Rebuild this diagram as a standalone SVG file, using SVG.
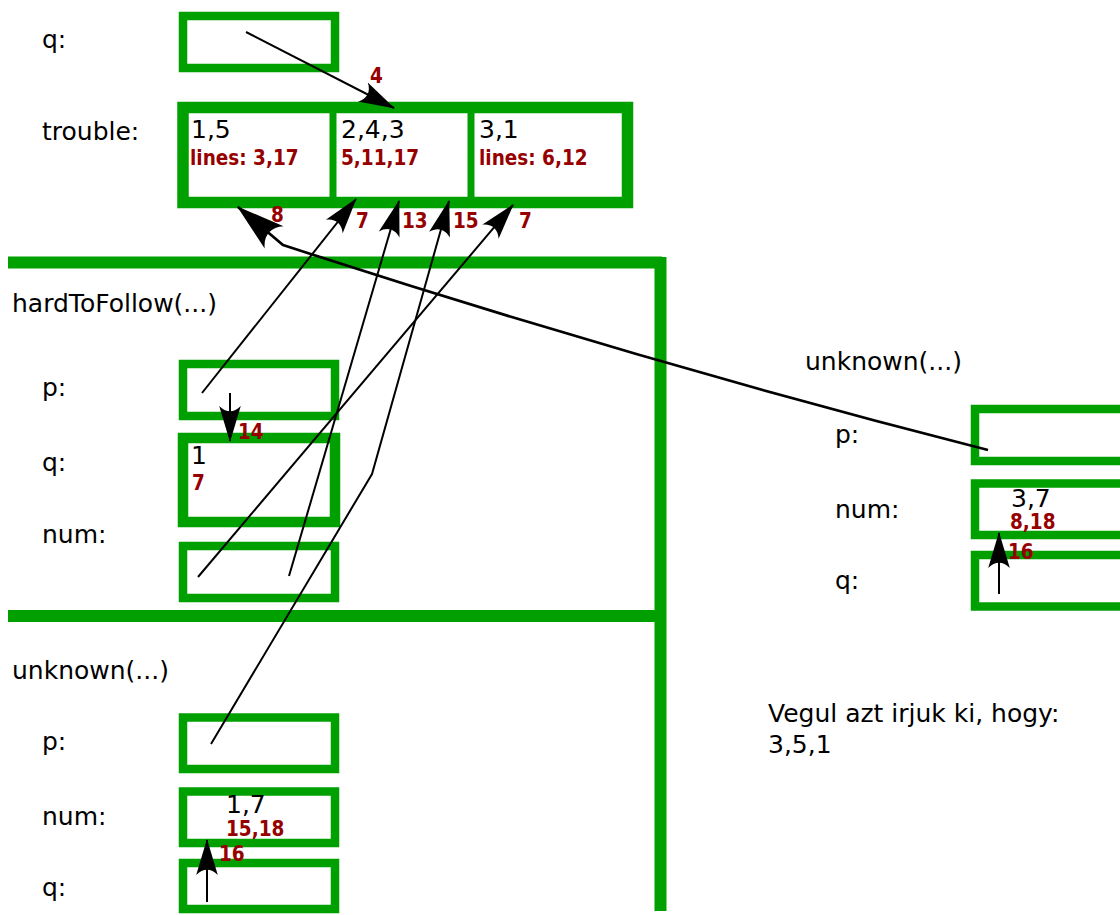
<svg xmlns="http://www.w3.org/2000/svg" width="1120" height="915" viewBox="0 0 1120 915">
  <defs>
    <style>
      .box { fill: none; stroke: #00a000; stroke-width: 8.5; }
      .boxw { fill: none; stroke: #00a000; stroke-width: 10.5; }
      .frame { fill: none; stroke: #00a000; stroke-width: 12; }
      .div { stroke: #00a000; stroke-width: 7; }
      .lbl { font-family: "DejaVu Sans", "Bitstream Vera Sans", sans-serif; font-size: 25px; fill: #000; }
      .val { font-family: "DejaVu Sans", "Bitstream Vera Sans", sans-serif; font-size: 25px; fill: #000; }
      .red { font-family: "DejaVu Sans Condensed", "DejaVu Sans", sans-serif; font-stretch: condensed; font-size: 20.5px; font-weight: bold; fill: #960000; }
      .ptr { fill: none; stroke: #000; stroke-width: 2; marker-end: url(#arrow); }
      .ptr-thick { fill: none; stroke: #000; stroke-width: 2.7; marker-end: url(#arrow); }
    </style>
    <!-- concave arrowhead, sized relative to the stroke width -->
    <marker id="arrow" viewBox="-18 -6 19 12" refX="0" refY="0" markerWidth="19" markerHeight="12" markerUnits="strokeWidth" orient="auto" overflow="visible">
      <path d="M0.5,0 L-17.5,-5.4 C-14,-2 -14,2 -17.5,5.4 Z" fill="#000"/>
    </marker>
  </defs>

  <rect width="1120" height="915" fill="#fff"/>

  <!-- global variables -->
  <g id="global-q">
    <text class="lbl" x="42" y="48">q:</text>
    <rect class="box" x="183" y="16" width="152" height="52"/>
  </g>

  <g id="trouble">
    <text class="lbl" x="42" y="140">trouble:</text>
    <rect x="183" y="107.5" width="444.5" height="95" fill="none" stroke="#00a000" stroke-width="11.5"/>
    <line class="div" x1="333" y1="107" x2="333" y2="203"/>
    <line class="div" x1="471" y1="107" x2="471" y2="203"/>
    <text class="val" x="191" y="138">1,5</text>
    <text class="red" x="190" y="165">lines: 3,17</text>
    <text class="val" x="341" y="138">2,4,3</text>
    <text class="red" x="341" y="165">5,11,17</text>
    <text class="val" x="479" y="138">3,1</text>
    <text class="red" x="479" y="165">lines: 6,12</text>
  </g>

  <!-- stack frame borders -->
  <g id="frames">
    <line class="frame" x1="8" y1="262.5" x2="662" y2="262.5"/>
    <line class="frame" x1="8" y1="616" x2="660" y2="616"/>
    <line class="frame" x1="660.5" y1="257" x2="660.5" y2="911"/>
  </g>

  <!-- hardToFollow(...) frame -->
  <g id="hardToFollow">
    <text class="lbl" x="12" y="312">hardToFollow(...)</text>
    <g id="htf-p">
      <text class="lbl" x="42" y="396">p:</text>
      <rect class="box" x="183" y="364" width="152" height="52"/>
    </g>
    <g id="htf-q">
      <text class="lbl" x="42" y="471">q:</text>
      <rect class="boxw" x="183" y="438" width="152" height="84"/>
      <text class="val" x="191" y="464">1</text>
      <text class="red" x="192" y="490">7</text>
    </g>
    <g id="htf-num">
      <text class="lbl" x="42" y="543">num:</text>
      <rect class="box" x="183" y="546" width="152" height="52"/>
    </g>
  </g>

  <!-- unknown(...) frame, lower left -->
  <g id="unknown-1">
    <text class="lbl" x="12" y="679">unknown(...)</text>
    <g id="u1-p">
      <text class="lbl" x="42" y="750">p:</text>
      <rect class="box" x="183" y="717.5" width="152" height="51.5"/>
    </g>
    <g id="u1-num">
      <text class="lbl" x="42" y="825">num:</text>
      <rect class="box" x="183" y="791.5" width="152" height="51.5"/>
      <text class="val" x="226" y="813">1,7</text>
      <text class="red" x="226" y="836">15,18</text>
    </g>
    <g id="u1-q">
      <text class="lbl" x="42" y="896">q:</text>
      <rect class="box" x="183" y="863" width="152" height="46"/>
    </g>
  </g>

  <!-- unknown(...) frame, right -->
  <g id="unknown-2">
    <text class="lbl" x="805" y="370">unknown(...)</text>
    <g id="u2-p">
      <text class="lbl" x="835" y="443">p:</text>
      <rect class="box" x="975" y="409" width="200" height="52"/>
    </g>
    <g id="u2-num">
      <text class="lbl" x="835" y="518">num:</text>
      <rect class="box" x="975" y="483.5" width="200" height="51.5"/>
      <text class="val" x="1011" y="507">3,7</text>
      <text class="red" x="1010" y="529">8,18</text>
    </g>
    <g id="u2-q">
      <text class="lbl" x="835" y="589">q:</text>
      <rect class="box" x="975" y="555" width="200" height="51.5"/>
    </g>
  </g>

  <g id="output">
    <text class="lbl" x="768" y="722">Vegul azt irjuk ki, hogy:</text>
    <text class="lbl" x="768" y="753">3,5,1</text>
  </g>

  <!-- pointers and step numbers -->
  <g id="connectors">
    <path class="ptr" d="M246,32 L394,108"/>
    <text class="red" x="370" y="83">4</text>

    <path class="ptr" d="M202,393 L356,199"/>
    <text class="red" x="356" y="228">7</text>

    <path class="ptr" d="M230,393 L230,441"/>
    <text class="red" x="238" y="439">14</text>

    <path class="ptr" d="M198,577 L513,205"/>
    <text class="red" x="519" y="228">7</text>

    <path class="ptr" d="M289,576 L399,201"/>
    <text class="red" x="402" y="228">13</text>

    <path class="ptr" d="M211,744 L372,474 L449,201"/>
    <text class="red" x="453" y="228">15</text>

    <path class="ptr-thick" d="M988,450 Q635,360 283,245 L238,207"/>
    <text class="red" x="271" y="222">8</text>

    <path class="ptr" d="M207,902 L207,840"/>
    <text class="red" x="219" y="861">16</text>

    <path class="ptr" d="M999,594 L999,533"/>
    <text class="red" x="1008" y="559">16</text>
  </g>
</svg>
